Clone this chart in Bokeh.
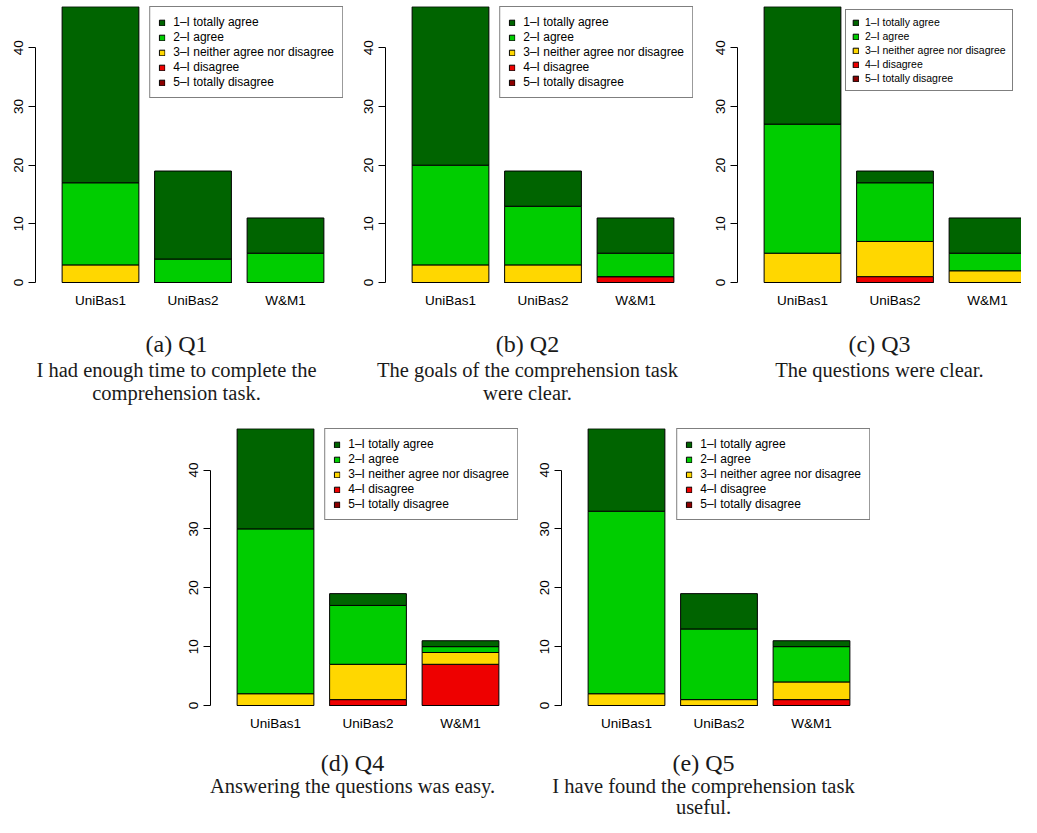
from bokeh.plotting import figure
from bokeh.models import ColumnDataSource, Range1d, FixedTicker, Legend, LegendItem, Label
from bokeh.layouts import row, column
from bokeh.embed import file_html
from bokeh.resources import INLINE

categories = ["UniBas1", "UniBas2", "W&M1"]
levels = ["1\u2013I totally agree", "2\u2013I agree", "3\u2013I neither agree nor disagree",
          "4\u2013I disagree", "5\u2013I totally disagree"]
level_colors = ["#006400", "#00CD00", "#FFD700", "#EE0000", "#8B0000"]
y_ticks = [0, 10, 20, 30, 40]

# counts per category (UniBas1, UniBas2, W&M1)
q1_totally_agree = [30, 15, 6]
q1_agree = [14, 4, 5]
q1_neither = [3, 0, 0]
q1_disagree = [0, 0, 0]
q1_totally_disagree = [0, 0, 0]

q2_totally_agree = [27, 6, 6]
q2_agree = [17, 10, 4]
q2_neither = [3, 3, 0]
q2_disagree = [0, 0, 1]
q2_totally_disagree = [0, 0, 0]

q3_totally_agree = [20, 2, 6]
q3_agree = [22, 10, 3]
q3_neither = [5, 6, 2]
q3_disagree = [0, 1, 0]
q3_totally_disagree = [0, 0, 0]

q4_totally_agree = [17, 2, 1]
q4_agree = [28, 10, 1]
q4_neither = [2, 6, 2]
q4_disagree = [0, 1, 7]
q4_totally_disagree = [0, 0, 0]

q5_totally_agree = [14, 6, 1]
q5_agree = [31, 12, 6]
q5_neither = [2, 1, 3]
q5_disagree = [0, 0, 1]
q5_totally_disagree = [0, 0, 0]

cap_q1 = ["(a) Q1", "I had enough time to complete the", "comprehension task."]
cap_q2 = ["(b) Q2", "The goals of the comprehension task", "were clear."]
cap_q3 = ["(c) Q3", "The questions were clear."]
cap_q4 = ["(d) Q4", "Answering the questions was easy."]
cap_q5 = ["(e) Q5", "I have found the comprehension task", "useful."]

STEP = 92.5      # pixels per category slot
FIRST = 65.0     # pixels from frame left to first bar centre
BAR_W = 0.83
YMIN, YPAD = -0.17, 0.05
SANS = "Liberation Sans"
SERIF = "Liberation Serif"


def chart(series, width, height, bl, bt, fw, fh, legend_loc="top_right", compact=False):
    bb = height - bt - fh
    br = width - bl - fw
    x0 = 1 - FIRST / STEP
    totals = [sum(v) for v in zip(*series)]
    ymax = max(totals) + YPAD
    p = figure(width=width, height=height, output_backend="svg", toolbar_location=None,
               x_range=Range1d(x0, x0 + fw / STEP), y_range=Range1d(YMIN, ymax),
               min_border_left=bl, min_border_right=br, min_border_top=bt,
               min_border_bottom=bb, title=None, frame_align=False)
    p.outline_line_color = None
    p.xgrid.visible = False
    p.ygrid.visible = False
    p.background_fill_color = "white"
    p.border_fill_color = "white"

    xs = list(range(1, len(categories) + 1))
    data = {"x": xs}
    keys = ["l%d" % (i + 1) for i in range(len(levels))]
    for k, v in zip(keys, series):
        data[k] = v
    src = ColumnDataSource(data)
    rs = p.vbar_stack(keys[::-1], x="x", width=BAR_W, source=src,
                      fill_color=level_colors[::-1], line_color="black", line_width=1)
    rs = rs[::-1]
    items = [LegendItem(label=levels[i], renderers=[rs[i]]) for i in range(len(levels))]
    if compact:
        lg_style = dict(padding=6, spacing=2, label_standoff=6, label_text_font_size="10.5px")
    else:
        lg_style = dict(padding=8, spacing=1, label_standoff=8, label_text_font_size="12px")
    lg = Legend(items=items, location=legend_loc, margin=0,
                glyph_width=7, glyph_height=7, label_height=12,
                label_text_font=SANS, label_text_color="black",
                border_line_color="black", border_line_width=1,
                background_fill_color="white", background_fill_alpha=1.0, **lg_style)
    p.add_layout(lg)

    xa = p.xaxis[0]
    xa.ticker = FixedTicker(ticks=xs)
    xa.major_label_overrides = {x: c for x, c in zip(xs, categories)}
    xa.axis_line_color = None
    xa.major_tick_line_color = None
    xa.minor_tick_line_color = None
    xa.major_tick_out = 0
    xa.major_tick_in = 0
    xa.major_label_standoff = 9
    xa.major_label_text_font = SANS
    xa.major_label_text_font_size = "13.5px"
    xa.major_label_text_color = "black"

    ya = p.yaxis[0]
    ya.ticker = FixedTicker(ticks=y_ticks)
    ya.bounds = (min(y_ticks), max(y_ticks))
    ya.axis_line_color = "black"
    ya.major_tick_line_color = "black"
    ya.minor_tick_line_color = None
    ya.major_tick_out = 7
    ya.major_tick_in = 0
    ya.major_label_standoff = 5
    ya.major_label_orientation = "vertical"
    ya.major_label_text_font = SANS
    ya.major_label_text_font_size = "13.5px"
    ya.major_label_text_color = "black"
    return p


def caption_box(lines, width, height, cx, ys):
    c = figure(width=width, height=height, output_backend="svg", toolbar_location=None,
               x_range=Range1d(0, width), y_range=Range1d(height, 0),
               x_axis_type=None, y_axis_type=None, title=None, frame_align=False,
               min_border=0, min_border_left=0, min_border_right=0,
               min_border_top=0, min_border_bottom=0)
    c.outline_line_color = None
    c.xgrid.visible = False
    c.ygrid.visible = False
    c.background_fill_color = "white"
    c.border_fill_color = "white"
    sizes = ["24px", "20.5px", "20.5px"]
    for txt, y, sz in zip(lines, ys, sizes):
        c.add_layout(Label(x=cx, y=y, text=txt, text_align="center", text_baseline="middle",
                           text_font=SERIF, text_font_size=sz, text_color="#1a1a1a"))
    return c


s1 = [q1_totally_agree, q1_agree, q1_neither, q1_disagree, q1_totally_disagree]
s2 = [q2_totally_agree, q2_agree, q2_neither, q2_disagree, q2_totally_disagree]
s3 = [q3_totally_agree, q3_agree, q3_neither, q3_disagree, q3_totally_disagree]
s4 = [q4_totally_agree, q4_agree, q4_neither, q4_disagree, q4_totally_disagree]
s5 = [q5_totally_agree, q5_agree, q5_neither, q5_disagree, q5_totally_disagree]

TOP_H, TOP_CAP_H = 318, 92
BOT_H, BOT_CAP_H = 330, 77
top_ys = [25, 51, 74]
bot_ys = [22, 45, 66]

fa = chart(s1, 352, TOP_H, 35, 6, 308, 277)
fb = chart(s2, 352, TOP_H, 33, 6, 308, 277)
fc = chart(s3, 317, TOP_H, 33, 6, 284, 277, legend_loc=(108, 192), compact=True)
fd = chart(s4, 530, BOT_H, 210, 18, 308, 278)
fe = chart(s5, 491, BOT_H, 31, 18, 309, 278)

ca = caption_box(cap_q1, 352, TOP_CAP_H, 35 + 141, top_ys)
cb = caption_box(cap_q2, 352, TOP_CAP_H, 33 + 142, top_ys)
cc = caption_box(cap_q3, 317, TOP_CAP_H, 33 + 142, top_ys)
cd = caption_box(cap_q4, 530, BOT_CAP_H, 210 + 142, bot_ys)
ce = caption_box(cap_q5, 491, BOT_CAP_H, 31 + 142, bot_ys)

layout = column(row(column(fa, ca), column(fb, cb), column(fc, cc)),
                row(column(fd, cd), column(fe, ce)))
open("out.html", "w").write(file_html(layout, INLINE))
